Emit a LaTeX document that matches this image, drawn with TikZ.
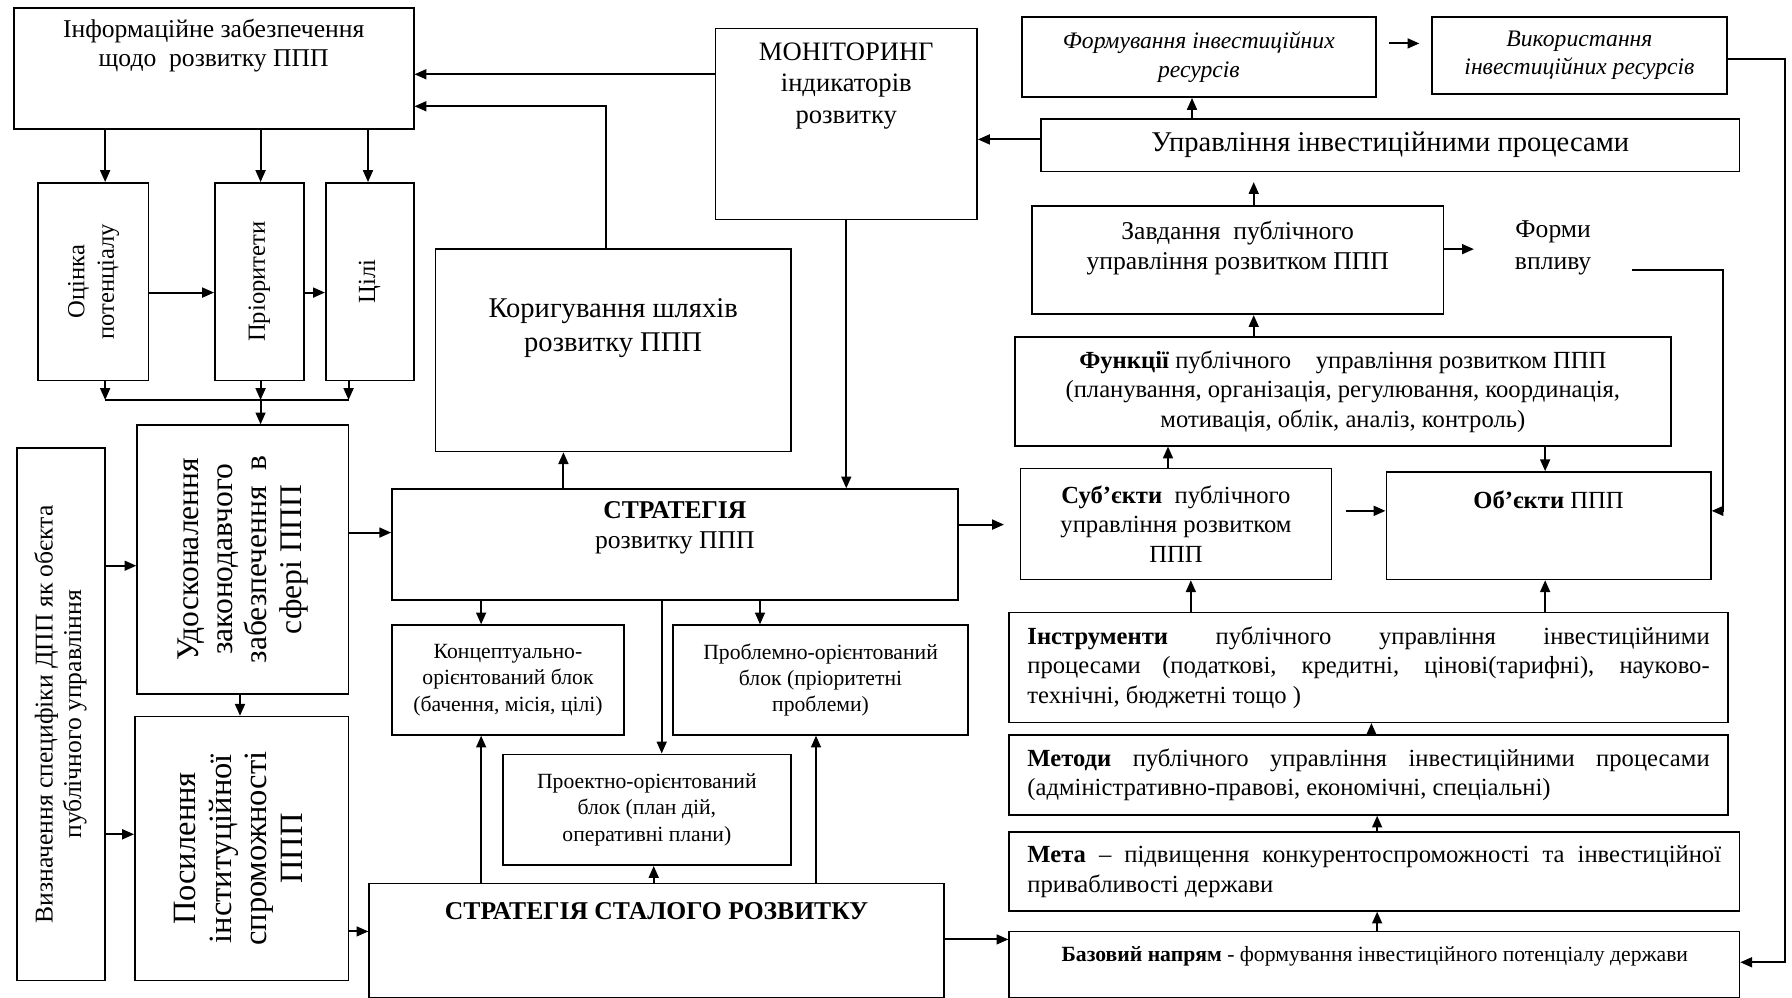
\documentclass[tikz,border=0pt]{standalone}
\usepackage{fontspec}
\setmainfont{Liberation Serif}
\usepackage{tikz}
\usetikzlibrary{arrows.meta}

\tikzset{sz/.style 2 args={minimum width=#1*0.58pt, minimum height=#2*0.58pt}}

\begin{document}
\begin{tikzpicture}[x=0.58pt, y=-0.58pt,
    box/.style={draw, line width=0.8pt, align=center, inner sep=2pt,
      font=\fontsize{12.5}{15}\selectfont},
    txt/.style={align=center, inner sep=0pt, font=\fontsize{12.5}{15}\selectfont},
    arr/.style={line width=1pt, -{Triangle[length=6pt, width=5pt]}},
    ln/.style={line width=1pt}]
        \useasboundingbox (0,0) rectangle (1568,873);

        % left column
        \node[box, sz={350}{106}] (info) at (187,60) {};
        \node[txt, font=\fontsize{13}{15}\selectfont] (info-t) at (187,40) {Інформаційне забезпечення\\щодо\enspace розвитку ППП};
        \node[box, sz={97}{173}] (ocinka) at (81.5,246.5) {\rotatebox{90}{\begin{tabular}{@{}c@{}}Оцінка\\потенціалу\end{tabular}}};
        \node[box, sz={78}{173}] (prio) at (227,246.5) {\rotatebox{90}{Пріоритети}};
        \node[box, sz={77}{173}] (cili) at (323.5,246.5) {\rotatebox{90}{Цілі}};
        \node[box, sz={185}{235}, font=\fontsize{16}{17.5}\selectfont] (udosk) at (212.5,489.5) {\rotatebox{90}{\begin{tabular}{@{}c@{}}Удосконалення\\законодавчого\\забезпечення\enspace в\\сфері ППП\end{tabular}}};
        \node[box, sz={77}{466}, font=\fontsize{13}{14.5}\selectfont] (vyzn) at (53.5,625) {\rotatebox{90}{\begin{tabular}{@{}c@{}}Визначення специфіки ДПП як обєкта\\публічного управління\end{tabular}}};
        \node[box, sz={187}{231}, font=\fontsize{16.5}{18}\selectfont] (posyl) at (211.5,742.5) {\rotatebox{90}{\begin{tabular}{@{}c@{}}Посилення\\інституційної\\спроможності\\ППП\end{tabular}}};

        % middle
        \node[box, sz={229}{167}] (mon) at (740.5,108.5) {};
        \node[txt, font=\fontsize{13.5}{16}\selectfont] (mon-t) at (740.5,75) {МОНІТОРИНГ\\індикаторів\\розвитку};
        \node[box, sz={311}{177}] (koryg) at (536.5,306.5) {};
        \node[txt, font=\fontsize{14.5}{17}\selectfont] (koryg-t) at (536.5,287) {Коригування шляхів\\розвитку ППП};
        \node[box, sz={495}{97}] (strat) at (590.5,476.5) {};
        \node[txt, font=\fontsize{13}{15}\selectfont] (strat-t) at (590.5,462) {\textbf{СТРАТЕГІЯ}\\розвитку ППП};
        \node[box, sz={203}{96}, font=\fontsize{11}{13.3}\selectfont] (konts) at (444.5,595) {Концептуально-\\орієнтований блок\\(бачення, місія, цілі)};
        \node[box, sz={258}{96}, font=\fontsize{11}{13.3}\selectfont] (problem) at (718,595) {Проблемно-орієнтований\\блок (пріоритетні\\проблеми)};
        \node[box, sz={252}{97}, font=\fontsize{11}{13.3}\selectfont] (proekt) at (566,708.5) {Проектно-орієнтований\\блок (план дій,\\оперативні плани)};
        \node[box, sz={503}{100}] (stal) at (574.5,823) {};
        \node[txt, font=\bfseries\fontsize{13}{15}\selectfont] (stal-t) at (574.5,797) {СТРАТЕГІЯ СТАЛОГО РОЗВИТКУ};

        % right column
        \node[box, sz={310}{70}, font=\itshape\fontsize{12}{14.5}\selectfont] (form) at (1049,50) {Формування інвестиційних\\ресурсів};
        \node[box, sz={258}{67}, font=\itshape\fontsize{12}{14.5}\selectfont] (vykor) at (1382,48.5) {Використання\\інвестиційних ресурсів};
        \node[box, sz={611}{46}, font=\fontsize{14.5}{17}\selectfont] (upr) at (1216.5,127) {Управління інвестиційними процесами};
        \node[box, sz={360}{95}] (zavd) at (1083,227.5) {};
        \node[txt, font=\fontsize{13}{15}\selectfont] (zavd-t) at (1083,217) {Завдання\enspace публічного\\управління розвитком ППП};
        \node[txt, minimum width={138*0.58pt}, font=\fontsize{13}{16}\selectfont] (formy) at (1359,217) {Форми\\впливу};
        \node[box, sz={574}{95}] (funk) at (1175,342.5) {\textbf{Функції} публічного\quad управління розвитком ППП\\(планування, організація, регулювання, координація,\\мотивація, облік, аналіз, контроль)};
        \node[box, sz={272}{97}] (sub) at (1029,458.5) {\textbf{Суб’єкти}\enspace публічного\\управління розвитком\\ППП};
        \node[box, sz={284}{94}] (obj) at (1355,460) {};
        \node[txt] (obj-t) at (1355,437) {\textbf{Об’єкти} ППП};
        \node[box, sz={629}{96}, text width={597*0.58pt}, align=justify] (instr) at (1197.5,584) {\textbf{Інструменти} публічного управління інвестиційними\linebreak процесами (податкові, кредитні, цінові(тарифні), науково-\linebreak технічні, бюджетні тощо )};
        \node[box, sz={629}{70}, text width={597*0.58pt}, align=justify] (metody) at (1197.5,678) {\textbf{Методи} публічного управління інвестиційними процесами\linebreak (адміністративно-правові, економічні, спеціальні)};
        \node[box, sz={639}{69}, text width={607*0.58pt}, align=justify] (meta) at (1202.5,762.5) {\textbf{Мета} – підвищення конкурентоспроможності та інвестиційної\linebreak привабливості держави};
        \node[box, sz={639}{58}] (baz) at (1202.5,844) {};
        \node[txt, font=\fontsize{11}{13}\selectfont] (baz-t) at (1203,837) {\textbf{Базовий напрям} - формування інвестиційного потенціалу держави};

        \coordinate (jl) at (92,350);
        \coordinate (jm) at (228,350);
        \coordinate (jr) at (305,350);
        \coordinate (fbend) at (1508,447);
        \coordinate (rbend) at (1562,842);

        % connectors, left part
        \draw[arr] (mon.west |- 0,65) -- (info.east |- 0,65);
        \draw[arr] (koryg.north -| 530,0) |- (info.east |- 0,93);
        \foreach \x in {92,228,322}
            \draw[arr] (info.south -| \x,0) -- (ocinka.north -| \x,0);
        \draw[arr] (ocinka.east |- 0,256) -- (prio.west |- 0,256);
        \draw[arr] (prio.east |- 0,256) -- (cili.west |- 0,256);
        \draw[arr] (ocinka.south -| jl) -- (jl);
        \draw[arr] (prio.south -| jm) -- (jm);
        \draw[arr] (cili.south -| jr) -- (jr);
        \draw[ln] (jl) -- (jr);
        \draw[arr] (jm) -- (udosk.north -| jm);
        \draw[arr] (vyzn.east |- 0,495) -- (udosk.west |- 0,495);
        \draw[arr] (vyzn.east |- 0,730) -- (posyl.west |- 0,730);
        \draw[arr] (udosk.south -| 210,0) -- (posyl.north -| 210,0);
        \draw[arr] (udosk.east |- 0,466) -- (strat.west |- 0,466);
        \draw[arr] (posyl.east |- 0,815) -- (stal.west |- 0,815);

        % connectors, middle
        \draw[arr] (strat.north -| 493,0) -- (koryg.south -| 493,0);
        \draw[arr] (mon.south) -- (strat.north -| mon.south);
        \foreach \x/\b in {421/konts,579/proekt,665/problem}
            \draw[arr] (strat.south -| \x,0) -- (\b.north -| \x,0);
        \foreach \x/\b in {421/konts,572/proekt,714/problem}
            \draw[arr] (stal.north -| \x,0) -- (\b.south -| \x,0);
        \draw[arr] (stal.east |- 0,822) -- (baz.west |- 0,822);
        \draw[arr, shorten >=8pt] (strat.east |- 0,459) -- (sub.west |- 0,459);

        % connectors, right part
        \draw[arr] (upr.west |- 0,122) -- (mon.east |- 0,122);
        \draw[arr] (upr.north -| 1043,0) -- (form.south -| 1043,0);
        \draw[arr, shorten <=6pt, shorten >=6pt] (form.east |- 0,38) -- (vykor.west |- 0,38);
        \draw[arr] (vykor.east |- 0,52) -| (rbend) -- (baz.east |- rbend);
        \draw[arr, shorten >=5pt] (zavd.north -| 1097,0) -- (upr.south -| 1097,0);
        \draw[arr] (zavd.east |- 0,218) -- (formy.west |- 0,218);
        \draw[arr] (formy.east |- 0,236) -| (fbend) -- (obj.east |- fbend);
        \draw[arr] (funk.north -| 1097,0) -- (zavd.south -| 1097,0);
        \draw[arr] (sub.north -| 1022,0) -- (funk.south -| 1022,0);
        \draw[arr] (funk.south -| 1352,0) -- (obj.north -| 1352,0);
        \draw[arr, shorten <=7pt] (sub.east |- 0,447) -- (obj.west |- 0,447);
        \draw[arr] (instr.north -| 1042,0) -- (sub.south -| 1042,0);
        \draw[arr] (instr.north -| 1352,0) -- (obj.south -| 1352,0);
        \draw[arr] (metody.north -| 1200,0) -- (instr.south -| 1200,0);
        \draw[arr] (meta.north -| 1205,0) -- (metody.south -| 1205,0);
        \draw[arr] (baz.north -| 1205,0) -- (meta.south -| 1205,0);
\end{tikzpicture}
\end{document}
